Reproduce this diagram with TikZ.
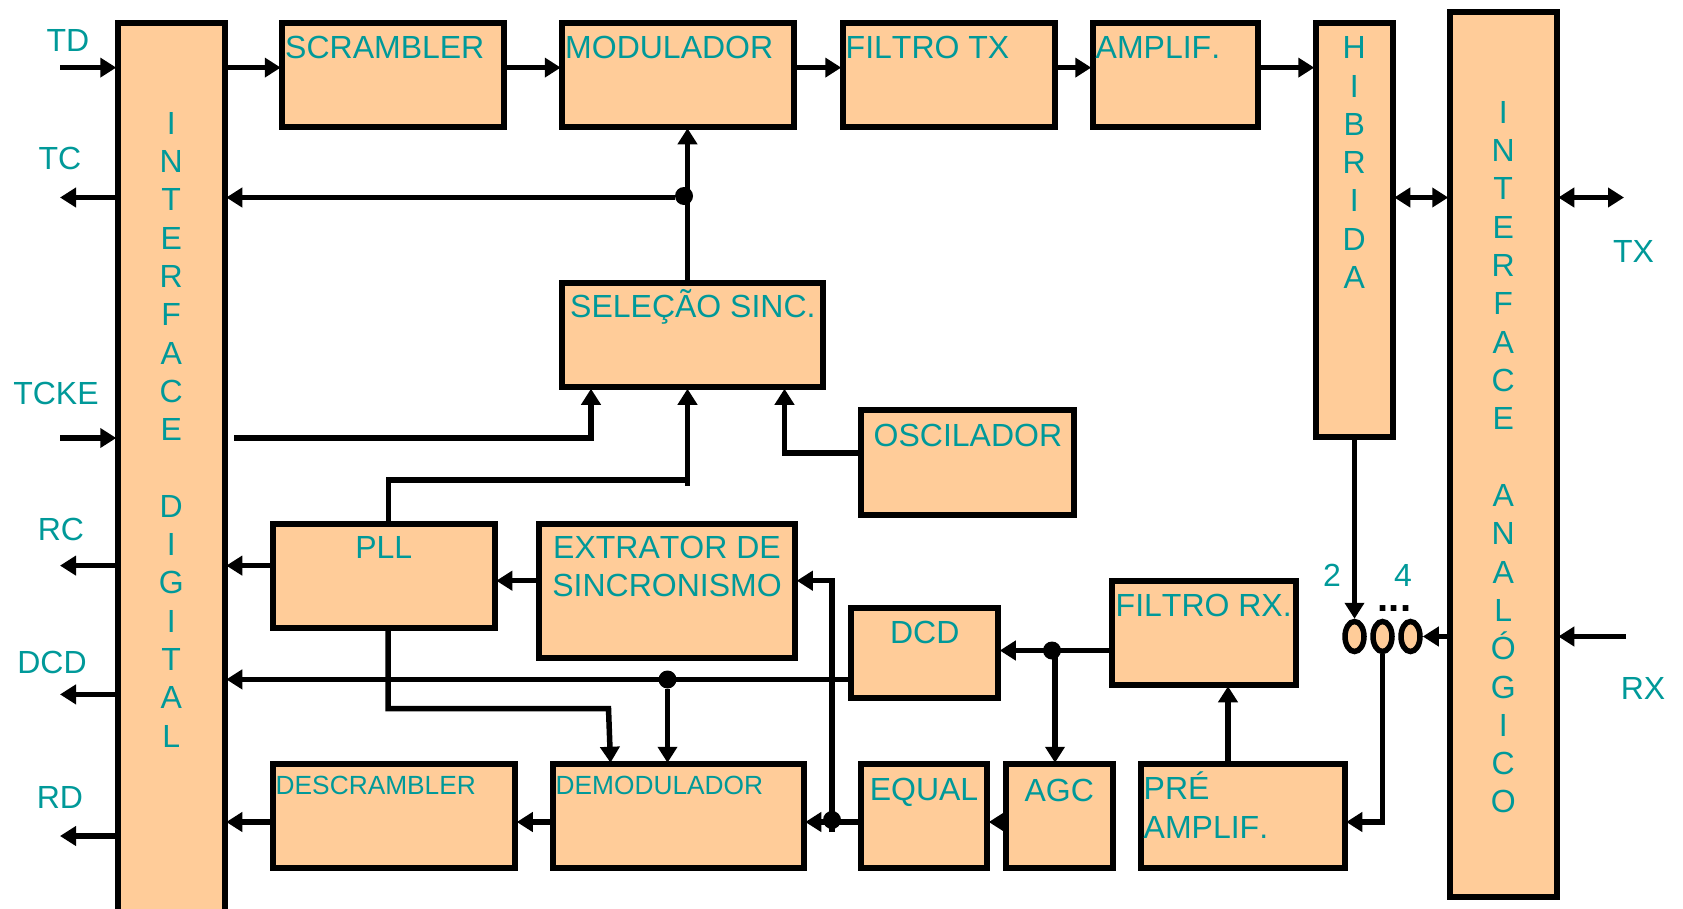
\documentclass[tikz,border=0pt]{standalone}
\usepackage{fontspec}
\setmainfont[Kerning=Off]{Liberation Sans}
\usetikzlibrary{arrows.meta,calc,shapes.geometric}
\definecolor{boxfill}{HTML}{FFCC99}
\definecolor{labelteal}{HTML}{009999}
\begin{document}
\begin{tikzpicture}[
  x=1pt, y=-1pt,
  font=\fontsize{32}{38.3}\selectfont,
  blockbox/.style={draw=black, line width=6pt, fill=boxfill, anchor=north west, inner sep=0pt,
                   outer sep=1.5pt, xshift=1.25pt, yshift=-1.25pt},
  boxtext/.style={anchor=base west, inner sep=0pt, text=labelteal, align=left, xshift=4.25pt, yshift=-37pt},
  boxmid/.style={anchor=base, inner sep=0pt, text=labelteal, align=center, yshift=-37pt},
  boxtall/.style={anchor=north, inner sep=0pt, text=labelteal, align=center},
  sigtext/.style={text=labelteal, inner sep=0pt},
  junction/.style={circle, fill=black, minimum size=18pt, inner sep=0pt},
  coil/.style={ellipse, draw=black, line width=5.5pt, fill=boxfill, minimum width=19pt, minimum height=30pt, inner sep=0pt},
  wire/.style={line width=5.5pt, line join=miter},
  arrow/.style={wire, -{Triangle[length=16pt,width=19pt]}},
  biarrow/.style={wire, {Triangle[length=16pt,width=19pt]}-{Triangle[length=16pt,width=19pt]}},
]
\clip (0,0) rectangle (1683,908);

% ── digital interface and transmit chain ──
\node[blockbox, minimum width=107pt, minimum height=930pt,
      label={[boxtall, yshift=-90.75pt]north:I\\N\\T\\E\\R\\F\\A\\C\\E\\[38.3pt]D\\I\\G\\I\\T\\A\\L}] (intdig) at (115,20) {};
\node[blockbox, minimum width=222pt, minimum height=104pt, label={[boxtext]north west:SCRAMBLER}] (scrambler) at (279.5,20) {};
\node[blockbox, minimum width=232pt, minimum height=104pt, label={[boxtext]north west:MODULADOR}] (modulador) at (559.5,20) {};
\node[blockbox, minimum width=212pt, minimum height=104pt, label={[boxtext]north west:FILTRO TX}] (filtrotx) at (840,20) {};
\node[blockbox, minimum width=165pt, minimum height=104pt, label={[boxtext]north west:AMPLIF.}] (amplif) at (1090,20) {};
\node[blockbox, minimum width=77pt, minimum height=414pt,
      label={[boxtall, yshift=-15.25pt]north:H\\I\\B\\R\\I\\D\\A}] (hibrida) at (1313,20) {};
\node[blockbox, minimum width=107pt, minimum height=885pt,
      label={[boxtall, yshift=-90.75pt]north:I\\N\\T\\E\\R\\F\\A\\C\\E\\[38.6pt]A\\N\\A\\L\\Ó\\G\\I\\C\\O}] (intana) at (1447,9) {};

% ── sync blocks ──
\node[blockbox, minimum width=261pt, minimum height=104pt, label={[boxtext, xshift=5pt, yshift=1pt]north west:SELEÇÃO SINC.}] (selecao) at (559.5,280.5) {};
\node[blockbox, minimum width=213pt, minimum height=105pt, label={[boxtext, xshift=10pt, yshift=-1pt]north west:OSCILADOR}] (oscilador) at (858,407.5) {};
\node[blockbox, minimum width=222pt, minimum height=104pt, label={[boxmid, yshift=1pt]north:PLL}] (pll) at (270,521) {};
\node[blockbox, minimum width=256.5pt, minimum height=134pt, label={[boxmid, yshift=-37.3pt]north:EXTRATOR DE\\SINCRONISMO}] (extrator) at (536,521) {};

% ── receive chain ──
\node[blockbox, minimum width=147pt, minimum height=90pt, label={[boxmid]north:DCD}] (dcd) at (848.5,605) {};
\node[blockbox, minimum width=184.5pt, minimum height=104pt, label={[boxtext, xshift=1pt]north west:FILTRO RX.}] (filtrorx) at (1109,578) {};
\node[blockbox, minimum width=242.5pt, minimum height=104pt,
      label={[boxtext, yshift=5pt, font=\fontsize{26.3}{30}\selectfont]north west:DESCRAMBLER}] (descrambler) at (270,761.5) {};
\node[blockbox, minimum width=251pt, minimum height=104pt,
      label={[boxtext, yshift=5pt, font=\fontsize{26.3}{30}\selectfont]north west:DEMODULADOR}] (demodulador) at (550,761.5) {};
\node[blockbox, minimum width=126.5pt, minimum height=104pt, label={[boxmid, yshift=-1pt]north:EQUAL}] (equal) at (858,761.5) {};
\node[blockbox, minimum width=107pt, minimum height=104pt, label={[boxmid, yshift=-2pt]north:AGC}] (agc) at (1003,761.5) {};
\node[blockbox, minimum width=204pt, minimum height=104pt, label={[boxtext, yshift=-38.3pt]north west:PRÉ\\AMPLIF.}] (preamp) at (1138,761.5) {};

% ── coils ──
\node[coil] (coila) at (1354.5,636.5) {};
\node[coil] (coilb) at (1382.5,636.5) {};
\node[coil] (coilc) at (1410.5,636.5) {};
\node[anchor=base, inner sep=0pt, font=\fontsize{40}{40}\selectfont\bfseries] (coildots) at (1394.5,611) {...};

% ── junctions ──
\node[junction] (juntx) at (684,196) {};
\node[junction] (jundcd) at (667.5,679.5) {};
\node[junction] (junagc) at (1052,650.5) {};
\node[junction] (juneq) at (832,820) {};

% ── rows and free ends ──
\coordinate (txrow) at (0,67.6);
\coordinate (tcrow) at (0,197.5);
\coordinate (tckerow) at (0,438);
\coordinate (rcrow) at (0,565.6);
\coordinate (extrow) at (0,580.7);
\coordinate (dcdrow) at (0,679.4);
\coordinate (dcdout) at (0,694.4);
\coordinate (eqrow) at (0,822);
\coordinate (rdrow) at (0,836);
\coordinate (coilrow) at (0,636.5);
\coordinate (leftend) at (60,0);
\coordinate (tcketail) at (234,438);
\coordinate (tckecorner) at (591,438);
\coordinate (pllcornera) at (388.5,480);
\coordinate (pllcornerb) at (687.5,480);
\coordinate (oscornerx) at (784.5,453);
\coordinate (demodcornera) at (388,708.5);
\coordinate (demodcornerb) at (608.5,708.5);
\coordinate (agctop) at (1055,650.5);
\coordinate (prejoin) at (1228,700);
\coordinate (txend) at (1624,197.5);
\coordinate (rxend) at (1626,636.5);
\coordinate (eqcross) at (832,832);
\coordinate (extcorner) at (832,580.7);
\coordinate (coilcorner) at (1382.5,822);

% ── transmit connectors ──
\draw[arrow] (leftend |- txrow) -- (intdig.west |- txrow);
\draw[arrow] (intdig.east |- txrow) -- (scrambler.west |- txrow);
\draw[arrow] (scrambler.east |- txrow) -- (modulador.west |- txrow);
\draw[arrow] (modulador.east |- txrow) -- (filtrotx.west |- txrow);
\draw[arrow] (filtrotx.east |- txrow) -- (amplif.west |- txrow);
\draw[arrow] (amplif.east |- txrow) -- (hibrida.west |- txrow);
\draw[arrow] (intdig.west |- tcrow) -- (leftend |- tcrow);
\draw[arrow] (juntx.west |- tcrow) -- (intdig.east |- tcrow);
\draw[arrow] (pllcornerb |- selecao.north) -- (pllcornerb |- modulador.south);
\draw[biarrow] (hibrida.east |- tcrow) -- (intana.west |- tcrow);
\draw[biarrow] (intana.east |- tcrow) -- (txend);

% ── sync connectors ──
\draw[arrow] (leftend |- tckerow) -- (intdig.west |- tckerow);
\draw[arrow] (tcketail) -- (tckecorner) -- (tckecorner |- selecao.south);
\draw[arrow] (pll.north -| pllcornera) -- (pllcornera) -- (pllcornerb) -- (pllcornerb |- selecao.south);
\draw[wire] (pllcornerb) -- ++(0,6);
\draw[arrow] (oscilador.west |- oscornerx) -- (oscornerx) -- (oscornerx |- selecao.south);
\draw[arrow] (pll.west |- rcrow) -- (intdig.east |- rcrow);
\draw[arrow] (intdig.west |- rcrow) -- (leftend |- rcrow);
\draw[arrow] (extrator.west |- extrow) -- (pll.east |- extrow);
\draw[arrow] (eqcross) -- (extcorner) -- (extrator.east |- extrow);

% ── receive connectors ──
\draw[arrow] (dcd.west |- dcdrow) -- (intdig.east |- dcdrow);
\draw[arrow] (intdig.west |- dcdout) -- (leftend |- dcdout);
\draw[arrow] (jundcd) -- (jundcd |- demodulador.north);
\draw[arrow] (pll.south -| demodcornera) -- (demodcornera) -- (demodcornerb) -- ([xshift=2pt]demodcornerb |- demodulador.north);
\draw[arrow] (filtrorx.west |- junagc) -- (dcd.east |- junagc);
\draw[arrow] (agctop) -- (agctop |- agc.north);
\draw[arrow] (prejoin |- preamp.north) -- (prejoin |- filtrorx.south);
\draw[arrow] (equal.west |- eqrow) -- (demodulador.east |- eqrow);
\draw[arrow] (agc.west |- eqrow) -- (equal.east |- eqrow);
\draw[arrow] (demodulador.west |- eqrow) -- (descrambler.east |- eqrow);
\draw[arrow] (descrambler.west |- eqrow) -- (intdig.east |- eqrow);
\draw[arrow] (intdig.west |- rdrow) -- (leftend |- rdrow);
\draw[arrow] (hibrida.south -| coila) -- (coila.north);
\draw[arrow] (intana.west |- coilrow) -- (coilc.east);
\draw[arrow] (rxend) -- (intana.east |- coilrow);
\draw[arrow] (coilb.south) -- (coilcorner) -- (preamp.east |- coilcorner);

% ── signal labels ──
\node[sigtext] (tdtxt) at (68,40) {TD};
\node[sigtext] (tctxt) at (60,158) {TC};
\node[sigtext] (tcketxt) at (56,393) {TCKE};
\node[sigtext] (rctxt) at (61,529) {RC};
\node[sigtext] (dcdtxt) at (52,662) {DCD};
\node[sigtext] (rdtxt) at (60,797.5) {RD};
\node[sigtext] (txtxt) at (1633.5,251) {TX};
\node[sigtext] (rxtxt) at (1643,688) {RX};
\node[sigtext] (twotxt) at (1332,575) {2};
\node[sigtext] (fourtxt) at (1403,575) {4};
\end{tikzpicture}
\end{document}
